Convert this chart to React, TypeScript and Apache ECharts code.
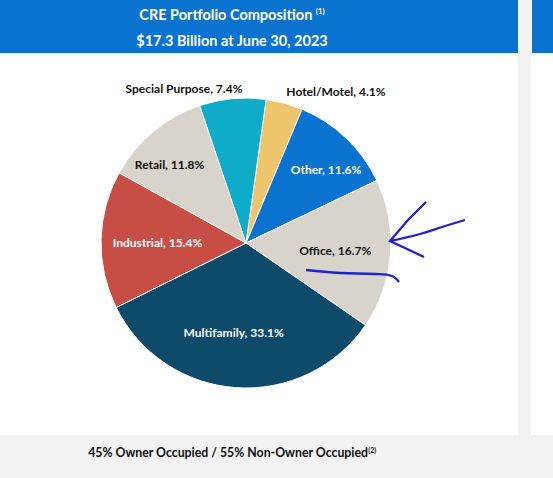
import React, { useEffect, useRef } from "react";
import * as echarts from "echarts";

const categories = ["Hotel/Motel", "Other", "Office", "Multifamily", "Industrial", "Retail", "Special Purpose"];
const shares = [4.1, 11.6, 16.7, 33.1, 15.4, 11.8, 7.4];
const sliceColors = ["#EEC46C", "#0A72CF", "#D9D4CB", "#0E4A69", "#C74E44", "#D9D4CB", "#0EACC8"];
const labelColors = ["#111", "#fff", "#111", "#fff", "#fff", "#111", "#111"];
const labelNudges = [[70, -79], [28, -19], [14, 2], [-7, 14], [-13, 1], [-28, -21], [-55, -79]];
const titleLine1 = "CRE Portfolio Composition";
const titleLine2 = "$17.3 Billion at June 30, 2023";
const footnoteText = "45% Owner Occupied / 55% Non-Owner Occupied";

export default function App() {
  const ref = useRef<HTMLDivElement>(null);
  useEffect(() => {
    if (!ref.current) return;
    const chart = echarts.init(ref.current, null, { renderer: "svg" });
    const font = "Lato";
    chart.setOption({
      animation: false,
      backgroundColor: "#ffffff",
      graphic: [
        { type: "rect", z: -10, shape: { x: 0, y: 0, width: 518, height: 53 }, style: { fill: "#0A72CF" } },
        { type: "rect", z: -10, shape: { x: 518, y: 0, width: 13, height: 435 }, style: { fill: "#F2F2F2" } },
        { type: "rect", z: -10, shape: { x: 532, y: 0, width: 21, height: 53 }, style: { fill: "#0A72CF" } },
        { type: "rect", z: -10, shape: { x: 0, y: 435, width: 553, height: 43 }, style: { fill: "#F2F2F2" } },
        {
          type: "text", x: 232, y: 14,
          style: {
            text: "{t|" + titleLine1 + "} {s|(1)}", align: "center", verticalAlign: "middle",
            rich: {
              t: { fontFamily: font, fontWeight: "bold", fontSize: 14.5, fill: "#fff" },
              s: { fontFamily: font, fontWeight: "bold", fontSize: 8, fill: "#fff", verticalAlign: "top" },
            },
          },
        },
        {
          type: "text", x: 232, y: 40,
          style: { text: titleLine2, align: "center", verticalAlign: "middle", fontFamily: font, fontWeight: "bold", fontSize: 14.5, fill: "#fff" },
        },
        {
          type: "text", x: 232, y: 452,
          style: {
            text: "{t|" + footnoteText + "}{s|(2)}", align: "center", verticalAlign: "middle",
            rich: {
              t: { fontFamily: font, fontWeight: "bold", fontSize: 12.3, fill: "#111" },
              s: { fontFamily: font, fontWeight: "bold", fontSize: 7, fill: "#111", verticalAlign: "top" },
            },
          },
        },
        // hand-drawn annotations
        {
          type: "polyline", z: 20,
          shape: { points: [[426, 202], [408, 220], [390, 241], [405, 248], [424, 257]] },
          style: { stroke: "#2020D0", lineWidth: 2.3, fill: "none" },
        },
        {
          type: "polyline", z: 20,
          shape: { points: [[390, 241], [420, 234], [445, 226], [465, 220]], smooth: 0.4 },
          style: { stroke: "#2020D0", lineWidth: 2.3, fill: "none" },
        },
        {
          type: "polyline", z: 20,
          shape: { points: [[306, 270], [340, 273], [375, 274], [392, 276], [399, 282]], smooth: 0.4 },
          style: { stroke: "#2020D0", lineWidth: 2.3, fill: "none" },
        },
      ],
      series: [
        {
          type: "pie",
          center: [246, 243],
          radius: [0, 145],
          startAngle: 82,
          clockwise: true,
          silent: true,
          emphasis: { disabled: true },
          itemStyle: { borderColor: "#fff", borderWidth: 1 },
          labelLine: { show: false },
          label: {
            show: true,
            position: "inside",
            formatter: "{b}, {c}%",
            fontFamily: font,
            fontWeight: "bold",
            fontSize: 12,
          },
          labelLayout: (p: any) => ({ dx: labelNudges[p.dataIndex][0], dy: labelNudges[p.dataIndex][1] }),
          data: categories.map((name, i) => ({
            name,
            value: shares[i],
            itemStyle: { color: sliceColors[i] },
            label: { color: labelColors[i] },
          })),
        },
      ],
    });
    return () => chart.dispose();
  }, []);
  return (
    <div style={{ position: "absolute", left: 0, top: 0, width: 553, height: 478 }}>
      <div ref={ref} style={{ width: 553, height: 478 }} />
    </div>
  );
}
